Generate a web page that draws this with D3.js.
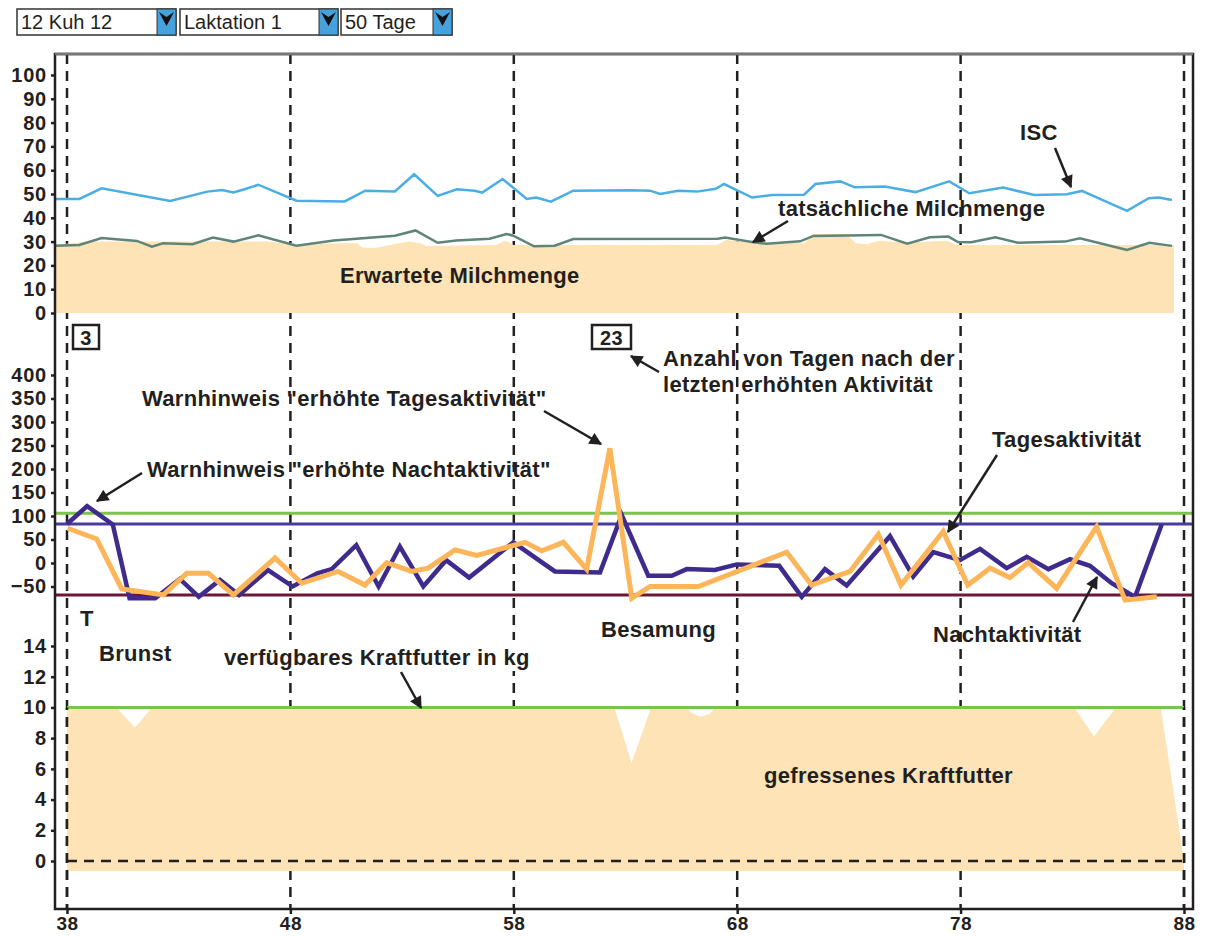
<!DOCTYPE html>
<html>
<head>
<meta charset="utf-8">
<script src="https://cdn.jsdelivr.net/npm/d3@7"></script>
<style>
  body { margin: 0; background: #fff; }
  svg text { font-family: "Liberation Sans", Arial, Helvetica, sans-serif; fill: #231f20; }
  .lbl { font-weight: bold; font-size: 22px; letter-spacing: 0.3px; }
  .tick text { font-weight: bold; font-size: 20px; letter-spacing: 0.8px; }
  .drop { font-size: 20px; }
</style>
</head>
<body>
<svg id="chart"></svg>
<script>
const svgWidth = 1206;
const svgHeight = 936;

// selectors on top of the chart
const dropLabels = ["12 Kuh 12", "Laktation 1", "50 Tage"];

// x axis (days in milk)
const dayTicks = [38, 48, 58, 68, 78, 88];

// milk panel
const milkTicks = [0, 10, 20, 30, 40, 50, 60, 70, 80, 90, 100];
const iscDays = [37.47, 38.55, 39.55, 42.62, 44.28, 44.95, 45.45, 45.95, 46.56, 48.27, 50.43, 51.35, 52.68, 53.54, 54.59, 55.45, 56.25, 56.59, 57.5, 58.58, 59.0, 59.66, 60.66, 63.3, 64.1, 64.55, 65.36, 66.2, 67.04, 67.41, 68.67, 69.56, 70.99, 71.5, 72.62, 73.26, 74.6, 75.98, 77.49, 78.39, 79.9, 81.3, 82.76, 83.43, 85.45, 86.42, 86.87, 87.46];
const iscValues = [47.9, 47.9, 52.4, 47.1, 51.0, 51.7, 50.6, 52.0, 53.9, 47.2, 46.9, 51.4, 51.1, 58.3, 49.2, 52.0, 51.4, 50.6, 56.3, 47.9, 48.5, 46.8, 51.4, 51.6, 51.4, 50.0, 51.4, 51.0, 52.2, 54.2, 48.5, 49.6, 49.7, 54.2, 55.3, 52.8, 53.1, 50.8, 55.3, 50.3, 52.7, 49.6, 49.9, 51.3, 42.9, 48.2, 48.5, 47.5];
const milkDays = [37.47, 38.55, 39.55, 41.13, 41.8, 42.3, 43.62, 44.53, 45.45, 46.56, 48.27, 49.94, 52.68, 53.6, 54.59, 55.42, 56.92, 57.67, 57.95, 58.91, 59.83, 60.66, 67.13, 67.46, 68.72, 69.31, 70.82, 71.41, 74.44, 75.61, 76.62, 77.46, 77.88, 78.47, 79.56, 80.57, 82.67, 83.34, 85.45, 86.45, 87.46];
const milkValues = [28.3, 28.6, 31.5, 30.3, 27.9, 29.3, 28.9, 31.7, 30.0, 32.6, 28.3, 30.5, 32.5, 34.7, 29.5, 30.5, 31.2, 33.2, 32.6, 28.0, 28.3, 31.1, 31.2, 31.7, 29.7, 29.1, 30.1, 32.4, 32.8, 29.1, 31.8, 32.1, 29.8, 29.7, 31.8, 29.5, 30.0, 31.4, 26.5, 29.5, 28.2];
const expectedDays = [37.47, 38.9, 47.0, 48.3, 49.9, 51.0, 51.2, 51.8, 52.6, 53.35, 53.8, 54.1, 57.2, 57.64, 57.98, 67.1, 67.5, 68.4, 71.0, 71.4, 72.9, 73.3, 73.8, 74.35, 75.6, 77.4, 77.8, 87.55];
const expectedValues = [28.6, 30.0, 30.0, 28.6, 29.3, 29.3, 27.5, 27.3, 28.9, 30.0, 29.3, 28.2, 28.6, 30.4, 28.6, 28.6, 30.7, 29.7, 29.3, 33.2, 33.2, 29.3, 28.9, 30.4, 29.6, 30.4, 28.6, 28.6];

// activity panel
const activityTicks = [-50, 0, 50, 100, 150, 200, 250, 300, 350, 400];
const activityLimits = [106, 83, -68];
const nightDays = [38.0, 38.9, 40.05, 40.8, 41.95, 43.05, 43.9, 44.85, 45.7, 47.0, 48.1, 49.2, 49.85, 50.95, 51.95, 52.9, 53.95, 54.97, 56.0, 57.98, 59.84, 61.86, 62.83, 64.02, 65.07, 65.74, 67.0, 67.98, 69.88, 70.89, 71.93, 72.9, 74.84, 75.88, 76.78, 77.97, 78.87, 80.06, 80.96, 81.93, 82.9, 83.79, 84.76, 85.81, 87.0];
const nightValues = [83, 121, 82, -75, -75, -34, -72, -36, -68, -15, -50, -22, -13, 38, -50, 35, -50, 6, -31, 44, -18, -20, 102, -27, -27, -13, -15, -3, -6, -72, -13, -48, 57, -29, 23, 6, 30, -11, 13, -13, 8, -6, -43, -72, 82];
const dayActDays = [38.03, 39.33, 40.45, 42.31, 43.36, 44.33, 45.45, 47.31, 48.51, 50.14, 51.34, 52.31, 53.43, 54.17, 55.37, 56.34, 58.5, 59.25, 60.22, 61.26, 62.3, 63.28, 64.1, 66.26, 70.22, 71.33, 73.05, 74.32, 75.33, 77.22, 78.32, 79.32, 80.21, 81.03, 82.3, 84.09, 85.36, 86.78];
const dayActValues = [74, 51, -55, -68, -22, -22, -68, 11, -43, -18, -47, 1, -18, -11, 28, 16, 44, 26, 44, -13, 244, -75, -50, -50, 23, -47, -18, 61, -47, 67, -47, -11, -31, 1, -54, 77, -79, -72];

// feed panel
const feedTicks = [0, 2, 4, 6, 8, 10, 12, 14];
const feedAvailable = 10;
const feedDays = [38, 40.2, 41.05, 41.8, 62.5, 63.27, 64.15, 65.7, 66.0, 66.4, 66.8, 67.0, 83.1, 83.97, 84.95, 86.96, 88];
const feedValues = [10, 10, 8.7, 10, 10, 6.4, 10, 10, 9.6, 9.4, 9.6, 10, 10, 8.1, 10, 10, 0];
const feedBase = -0.65;

const ink = "#231f20";
const fillColor = "#fde3b5";

const svg = d3.select("#chart")
  .attr("width", svgWidth)
  .attr("height", svgHeight);

svg.append("defs").append("marker")
  .attr("id", "head")
  .attr("viewBox", "0 0 10 10")
  .attr("refX", 9).attr("refY", 5)
  .attr("markerWidth", 5.5).attr("markerHeight", 5)
  .attr("markerUnits", "strokeWidth")
  .attr("orient", "auto")
  .append("path")
  .attr("d", "M0,0L10,5L0,10z")
  .attr("fill", ink);

const frame = { left: 55, right: 1193, top: 54, bottom: 909 };

const x = d3.scaleLinear().domain([38, 88]).range([67, 1184]);
const yMilk = d3.scaleLinear().domain([0, 100]).range([313, 75]);
const yAct = d3.scaleLinear().domain([0, 400]).range([563, 375]);
const yFeed = d3.scaleLinear().domain([0, 14]).range([861, 646]);

// dropdowns
const dropBoxes = [[17, 140], [180, 139], [341, 92]];
dropLabels.forEach((t, i) => {
  const [bx, bw] = dropBoxes[i];
  const g = svg.append("g").attr("transform", `translate(${bx},9)`);
  g.append("rect").attr("width", bw + 19).attr("height", 26)
    .attr("fill", "#fff").attr("stroke", "#333").attr("stroke-width", 1.5);
  g.append("rect").attr("x", bw).attr("width", 19).attr("height", 26)
    .attr("fill", "#45a2dc").attr("stroke", "#333").attr("stroke-width", 1);
  g.append("path")
    .attr("d", `M${bw + 2},3L${bw + 9.5},8L${bw + 17},3L${bw + 9.5},17z`)
    .attr("fill", "#111");
  g.append("text").attr("class", "drop").attr("x", 4).attr("y", 20).text(t);
});

// vertical dashed day lines
svg.append("g").selectAll("line")
  .data(dayTicks)
  .enter().append("line")
  .attr("x1", d => x(d)).attr("x2", d => x(d))
  .attr("y1", frame.top).attr("y2", frame.bottom)
  .attr("stroke", ink).attr("stroke-width", 2.5)
  .attr("stroke-dasharray", "10,7");

// milk panel
svg.append("path")
  .datum(expectedDays.map((d, i) => [d, expectedValues[i]]))
  .attr("fill", fillColor)
  .attr("d", d3.area().x(d => x(d[0])).y0(yMilk(0)).y1(d => yMilk(d[1])));

svg.append("path")
  .datum(iscDays.map((d, i) => [d, iscValues[i]]))
  .attr("fill", "none").attr("stroke", "#4aaee4").attr("stroke-width", 2.5)
  .attr("d", d3.line().x(d => x(d[0])).y(d => yMilk(d[1])));

svg.append("path")
  .datum(milkDays.map((d, i) => [d, milkValues[i]]))
  .attr("fill", "none").attr("stroke", "#5f8479").attr("stroke-width", 2.5)
  .attr("d", d3.line().x(d => x(d[0])).y(d => yMilk(d[1])));

// activity panel
const limitColors = ["#7dc24b", "#4b3a9f", "#6b1838"];
svg.append("g").selectAll("line")
  .data(activityLimits)
  .enter().append("line")
  .attr("x1", frame.left).attr("x2", frame.right)
  .attr("y1", d => yAct(d)).attr("y2", d => yAct(d))
  .attr("stroke", (d, i) => limitColors[i]).attr("stroke-width", 3);

svg.append("path")
  .datum(nightDays.map((d, i) => [d, nightValues[i]]))
  .attr("fill", "none").attr("stroke", "#3f2b8e").attr("stroke-width", 4.5)
  .attr("d", d3.line().x(d => x(d[0])).y(d => yAct(d[1])));

svg.append("path")
  .datum(dayActDays.map((d, i) => [d, dayActValues[i]]))
  .attr("fill", "none").attr("stroke", "#fdb55a").attr("stroke-width", 5)
  .attr("d", d3.line().x(d => x(d[0])).y(d => yAct(d[1])));

// feed panel
svg.append("path")
  .datum(feedDays.map((d, i) => [d, feedValues[i]]))
  .attr("fill", fillColor)
  .attr("d", d3.area().x(d => x(d[0])).y0(yFeed(feedBase)).y1(d => yFeed(d[1])));

svg.append("line")
  .attr("x1", x(38)).attr("x2", x(88))
  .attr("y1", yFeed(feedAvailable)).attr("y2", yFeed(feedAvailable))
  .attr("stroke", "#7dc24b").attr("stroke-width", 3);

svg.append("line")
  .attr("x1", x(38)).attr("x2", x(88))
  .attr("y1", yFeed(0)).attr("y2", yFeed(0))
  .attr("stroke", ink).attr("stroke-width", 2.5)
  .attr("stroke-dasharray", "10,7");

// edge dashes stay visible over the fill (same dash phase as the full lines)
const edgeTop = yFeed(feedAvailable);
svg.append("g").selectAll("line")
  .data([38, 88])
  .enter().append("line")
  .attr("x1", d => x(d)).attr("x2", d => x(d))
  .attr("y1", edgeTop).attr("y2", frame.bottom)
  .attr("stroke", ink).attr("stroke-width", 2.5)
  .attr("stroke-dasharray", "10,7")
  .attr("stroke-dashoffset", (edgeTop - frame.top) % 17);

// frame
svg.append("rect")
  .attr("x", frame.left).attr("y", frame.top)
  .attr("width", frame.right - frame.left).attr("height", frame.bottom - frame.top)
  .attr("fill", "none").attr("stroke", ink).attr("stroke-width", 2.5);
svg.append("line")
  .attr("x1", frame.left).attr("x2", frame.right)
  .attr("y1", frame.top).attr("y2", frame.top)
  .attr("stroke", "#777").attr("stroke-width", 2.5);

// axes
function leftAxis(scale, ticks) {
  const g = svg.append("g")
    .attr("transform", `translate(${frame.left},0)`)
    .call(d3.axisLeft(scale).tickValues(ticks).tickSize(4).tickPadding(4));
  g.select(".domain").remove();
  g.selectAll(".tick line").attr("stroke", ink).attr("stroke-width", 2.5);
  return g;
}
leftAxis(yMilk, milkTicks);
leftAxis(yAct, activityTicks);
leftAxis(yFeed, feedTicks);

const xAxis = svg.append("g")
  .attr("transform", `translate(0,${frame.bottom})`)
  .call(d3.axisBottom(x).tickValues(dayTicks).tickSize(5).tickPadding(3));
xAxis.select(".domain").remove();
xAxis.selectAll(".tick line").attr("stroke", ink).attr("stroke-width", 2.5);
xAxis.selectAll(".tick text").style("font-size", "19px").style("letter-spacing", "0.5px");

// annotations
const notes = [
  ["ISC", 1020, 140],
  ["tatsächliche Milchmenge", 778, 216],
  ["Erwartete Milchmenge", 340, 283],
  ["Anzahl von Tagen nach der", 663, 366],
  ["letzten erhöhten Aktivität", 663, 392],
  ["Warnhinweis \"erhöhte Tagesaktivität\"", 142, 406],
  ["Tagesaktivität", 992, 447],
  ["Warnhinweis \"erhöhte Nachtaktivität\"", 147, 477],
  ["T", 80, 626],
  ["Besamung", 601, 637],
  ["Nachtaktivität", 933, 642],
  ["Brunst", 99, 661],
  ["gefressenes Kraftfutter", 764, 783]
];

svg.append("rect")
  .attr("x", 220).attr("y", 640).attr("width", 318).attr("height", 31)
  .attr("fill", "#fff");
notes.push(["verfügbares Kraftfutter in kg", 224, 665]);

svg.append("g").selectAll("text")
  .data(notes)
  .enter().append("text")
  .attr("class", "lbl")
  .attr("x", d => d[1]).attr("y", d => d[2])
  .text(d => d[0]);

// counter boxes
[["3", 73, 26], ["23", 592, 39]].forEach(([t, bx, bw]) => {
  svg.append("rect")
    .attr("x", bx).attr("y", 325).attr("width", bw).attr("height", 24)
    .attr("fill", "#fff").attr("stroke", ink).attr("stroke-width", 2.5);
  svg.append("text").attr("class", "lbl")
    .attr("x", bx + bw / 2).attr("y", 345)
    .attr("text-anchor", "middle").style("font-size", "20px")
    .text(t);
});

// arrows
const arrows = [
  [1055, 148, 1071, 187],
  [788, 221, 753, 242],
  [659, 372, 631, 356],
  [544, 411, 601, 444],
  [142, 473, 97, 501],
  [997, 455, 948, 532],
  [1073, 622, 1097, 577],
  [401, 672, 421, 708]
];
svg.append("g").selectAll("line")
  .data(arrows)
  .enter().append("line")
  .attr("x1", d => d[0]).attr("y1", d => d[1])
  .attr("x2", d => d[2]).attr("y2", d => d[3])
  .attr("stroke", ink).attr("stroke-width", 2.5)
  .attr("marker-end", "url(#head)");
</script>
</body>
</html>
